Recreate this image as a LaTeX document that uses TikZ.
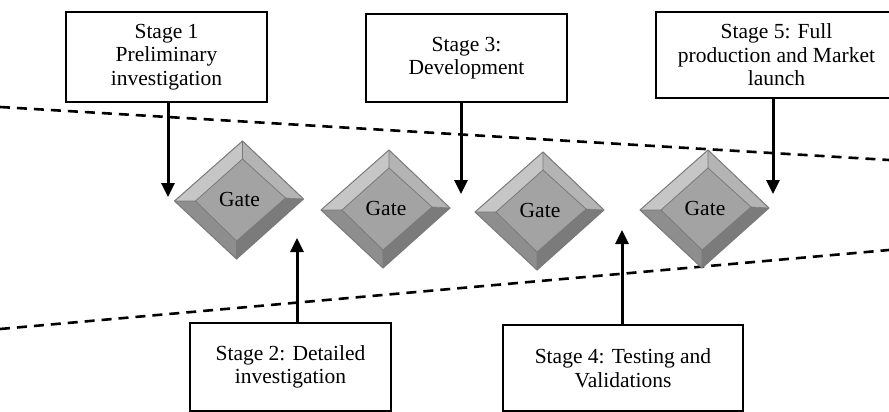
\documentclass[tikz,border=0pt]{standalone}
\usepackage{fontspec}
\setmainfont{Liberation Serif}
\usetikzlibrary{arrows.meta}
\definecolor{bevTL}{HTML}{C6C6C6}
\definecolor{bevTR}{HTML}{B4B4B4}
\definecolor{bevBR}{HTML}{7B7B7B}
\definecolor{bevBL}{HTML}{8E8E8E}
\definecolor{faceC}{HTML}{A3A3A3}
\definecolor{edgeC}{HTML}{7A7A7A}
\newcommand\gatediamond[3]{%
  \begin{scope}[shift={(#1,#2)}]
    \fill[bevTL] (-65,1) -- (3,-59) -- (3,-41) -- (-44,1) -- cycle;
    \fill[bevTR] (3,-59) -- (64,-1) -- (46,-2) -- (3,-41) -- cycle;
    \fill[bevBR] (64,-1) -- (-3,59) -- (-3,41) -- (46,-2) -- cycle;
    \fill[bevBL] (-3,59) -- (-65,1) -- (-44,1) -- (-3,41) -- cycle;
    \fill[faceC] (3,-41) -- (46,-2) -- (-3,41) -- (-44,1) -- cycle;
    \draw[edgeC, line width=0.8pt] (3,-41) -- (46,-2) -- (-3,41) -- (-44,1) -- cycle;
    \draw[edgeC, line width=0.6pt] (-65,1) -- (-44,1) (3,-59) -- (3,-41) (64,-1) -- (46,-2) (-3,59) -- (-3,41);
    \draw[edgeC, line width=1pt, line join=miter] (-65,1) -- (3,-59) -- (64,-1) -- (-3,59) -- cycle;
    \node[gatetext] (#3) at (0,-1) {Gate};
  \end{scope}}
\begin{document}
\begin{tikzpicture}[x=1pt,y=-1pt,
  stagebox/.style={draw=black, line width=2pt, fill=white, align=center, inner sep=0pt,
    font=\fontsize{21.5}{23.5}\selectfont},
  gatetext/.style={font=\fontsize{21.5}{23}\selectfont, inner sep=0pt},
  flowarrow/.style={line width=3pt, -{Triangle[length=14pt,width=13pt]}},
  boundary/.style={line width=2.6pt, dash pattern=on 10pt off 7pt}]
\useasboundingbox (0,0) rectangle (889,412);
\clip (0,0) rectangle (889,412);
\fill[white] (0,0) rectangle (889,412);
% dashed boundaries
\coordinate (tl) at (0,107);
\coordinate (tr) at (889,160);
\coordinate (bl) at (0,329);
\coordinate (br) at (889,250);
\draw[boundary] (tl) -- (tr);
\draw[boundary] (bl) -- (br);
% gates
\gatediamond{239.5}{200}{g1}
\gatediamond{386}{209}{g2}
\gatediamond{540}{211}{g3}
\gatediamond{705}{209}{g4}
% stage boxes
\node[stagebox, minimum width=201pt, minimum height=90pt] (s1) at (166.5,57) {Stage 1\\Preliminary\\investigation};
\node[stagebox, minimum width=201pt, minimum height=88pt] (s3) at (466.5,58) {Stage 3:\\Development};
\node[stagebox, minimum width=241pt, minimum height=86pt] (s5) at (776.5,55) {Stage 5: Full\\production and Market\\launch};
\node[stagebox, minimum width=201pt, minimum height=88pt] (s2) at (290.5,367) {Stage 2: Detailed\\investigation};
\node[stagebox, minimum width=240pt, minimum height=86pt] (s4) at (623,368) {Stage 4: Testing and\\Validations};
% arrow ends
\coordinate (a1) at (168,197);
\coordinate (a3) at (461,194);
\coordinate (a5) at (773,194);
\coordinate (a2) at (297,238);
\coordinate (a4) at (622,230);
\draw[flowarrow] (s1.south -| a1) -- (a1);
\draw[flowarrow] (s3.south -| a3) -- (a3);
\draw[flowarrow] (s5.south -| a5) -- (a5);
\draw[flowarrow] (s2.north -| a2) -- (a2);
\draw[flowarrow] (s4.north -| a4) -- (a4);
\end{tikzpicture}
\end{document}
